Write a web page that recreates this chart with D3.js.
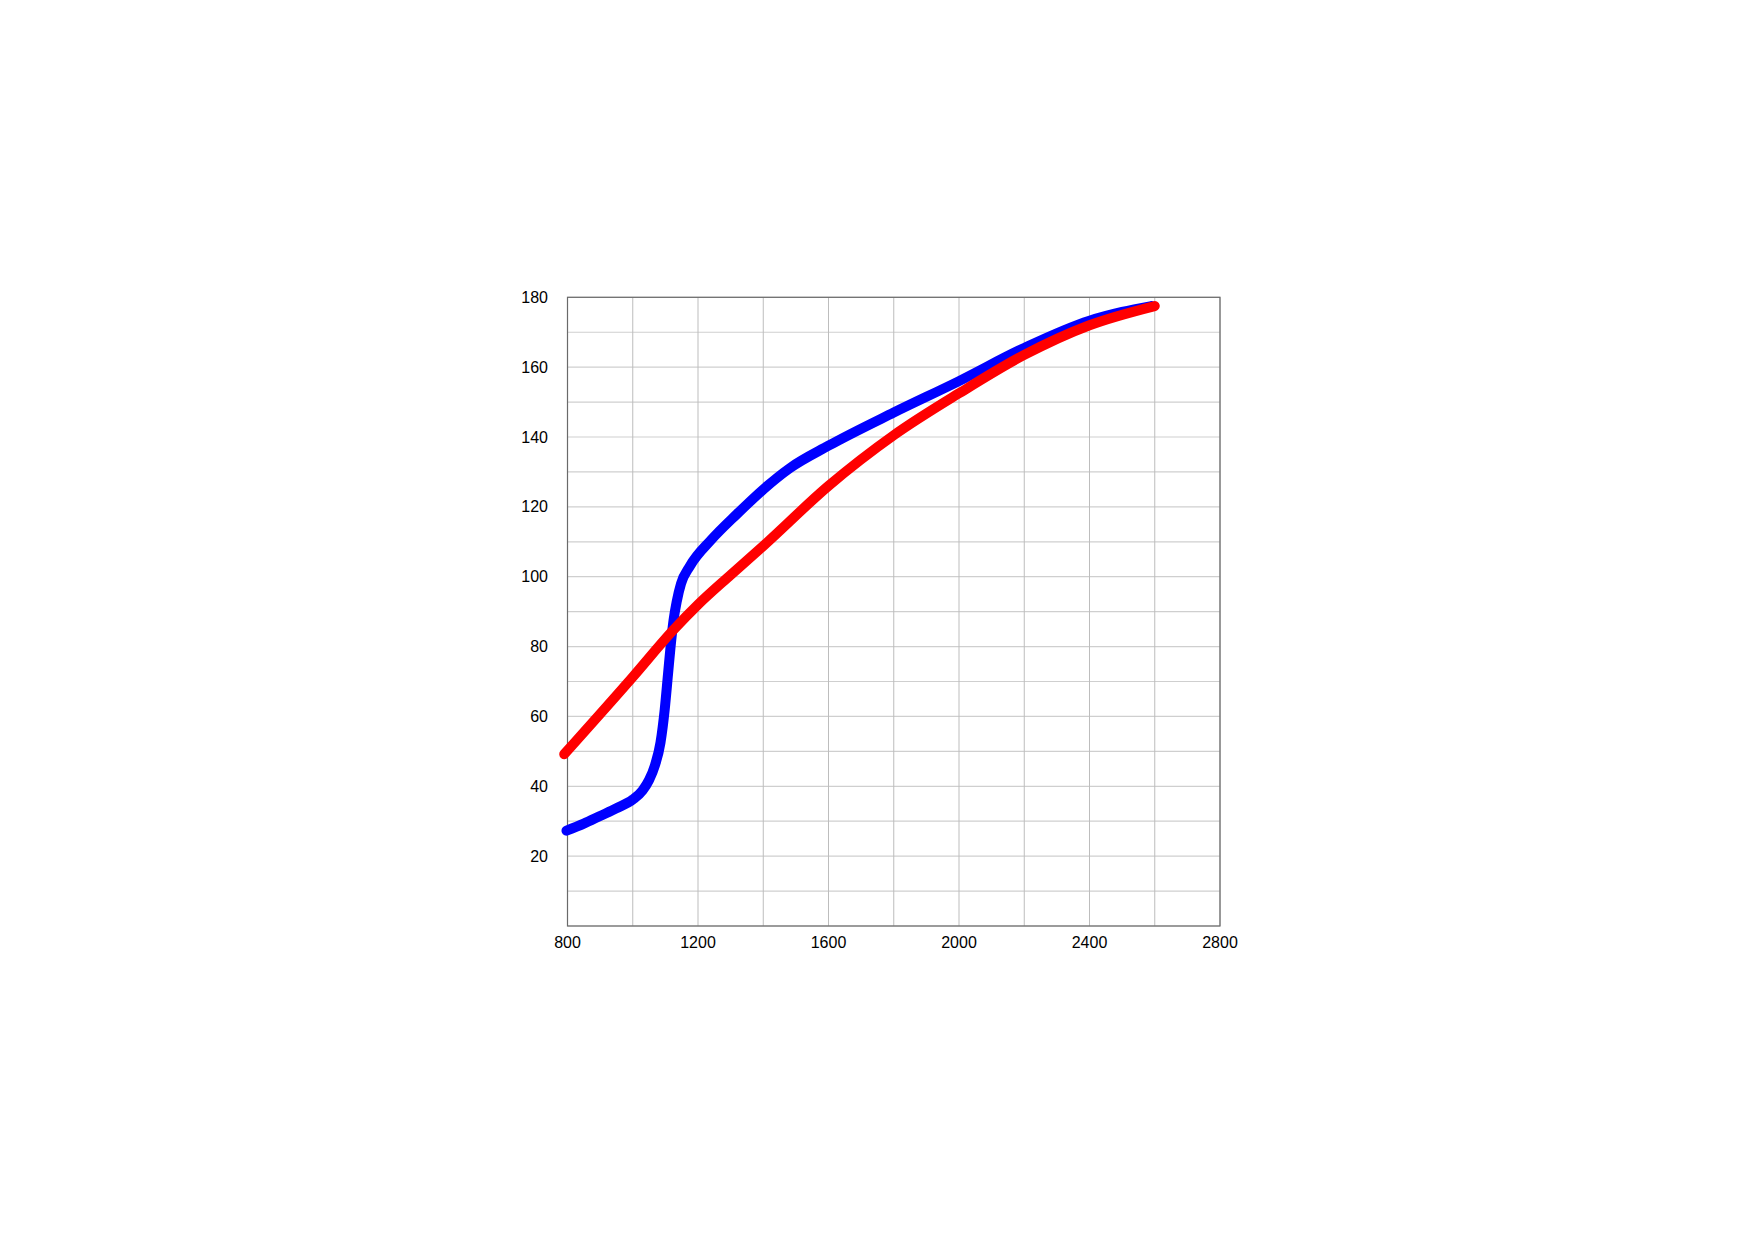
<!DOCTYPE html>
<html>
<head>
<meta charset="utf-8">
<script src="https://cdn.jsdelivr.net/npm/d3@7"></script>
<style>
  html, body { margin: 0; padding: 0; background: #fff; }
  svg { display: block; }
  text { font-family: "Liberation Sans", Arial, sans-serif; font-size: 16px; fill: #000; }
</style>
</head>
<body>
<svg id="chart" width="1754" height="1240"></svg>
<script>
// ---- data ----
const blueX = [797, 850, 900, 950, 1000, 1030, 1050, 1068, 1085, 1098, 1108, 1116, 1125, 1135, 1148, 1175, 1240, 1320, 1400, 1480, 1600, 1800, 2000, 2200, 2400, 2500, 2590];
const blueY = [27.3, 29.3, 31.5, 33.7, 36.2, 38.8, 41.8, 46, 52.5, 62, 72, 80, 87.5, 93, 98, 103, 110.5, 118, 125, 131, 137.5, 147, 156, 165.5, 173.3, 175.8, 177.5];
const redX = [790, 1000, 1124, 1200, 1300, 1400, 1600, 1800, 2000, 2200, 2400, 2600];
const redY = [49.2, 71.3, 84.7, 92, 100.5, 108.8, 126, 140.5, 152.5, 163.5, 172, 177.5];
const xTicks = [800, 1200, 1600, 2000, 2400, 2800];
const yTicks = [20, 40, 60, 80, 100, 120, 140, 160, 180];
const xGrid = d3.range(800, 2801, 200);
const yGrid = d3.range(0, 181, 10);

// ---- layout ----
const svg = d3.select("#chart");
const pLeft = 567.5, pRight = 1220, pTop = 297.3, pBottom = 926;
const x = d3.scaleLinear().domain([800, 2800]).range([pLeft, pRight]);
const y = d3.scaleLinear().domain([0, 180]).range([pBottom, pTop]);

// grid
svg.append("g").selectAll("line").data(yGrid).join("line")
  .attr("x1", pLeft).attr("x2", pRight)
  .attr("y1", d => y(d)).attr("y2", d => y(d))
  .attr("stroke", "#cfcfcf").attr("stroke-width", 1.2);
svg.append("g").selectAll("line").data(xGrid).join("line")
  .attr("y1", pTop).attr("y2", pBottom)
  .attr("x1", d => x(d)).attr("x2", d => x(d))
  .attr("stroke", "#bdbdbd").attr("stroke-width", 1);

// frame
svg.append("rect").attr("x", pLeft).attr("y", pTop)
  .attr("width", pRight - pLeft).attr("height", pBottom - pTop)
  .attr("fill", "none").attr("stroke", "#6a6a6a").attr("stroke-width", 1.2);

// tick labels
svg.append("g").selectAll("text").data(yTicks).join("text")
  .attr("x", 548).attr("y", d => y(d)).attr("dy", "0.35em")
  .attr("text-anchor", "end").text(d => d);
svg.append("g").selectAll("text").data(xTicks).join("text")
  .attr("x", d => x(d)).attr("y", 947.5)
  .attr("text-anchor", "middle").text(d => d);

// lines
const line = d3.line().x(d => x(d[0])).y(d => y(d[1])).curve(d3.curveMonotoneX);
const blue = blueX.map((v, i) => [v, blueY[i]]);
const red = redX.map((v, i) => [v, redY[i]]);
svg.append("path").attr("d", line(blue)).attr("fill", "none")
  .attr("stroke", "#0000ff").attr("stroke-width", 10)
  .attr("stroke-linecap", "round").attr("stroke-linejoin", "round");
svg.append("path").attr("d", line(red)).attr("fill", "none")
  .attr("stroke", "#ff0000").attr("stroke-width", 10)
  .attr("stroke-linecap", "round").attr("stroke-linejoin", "round");
</script>
</body>
</html>
